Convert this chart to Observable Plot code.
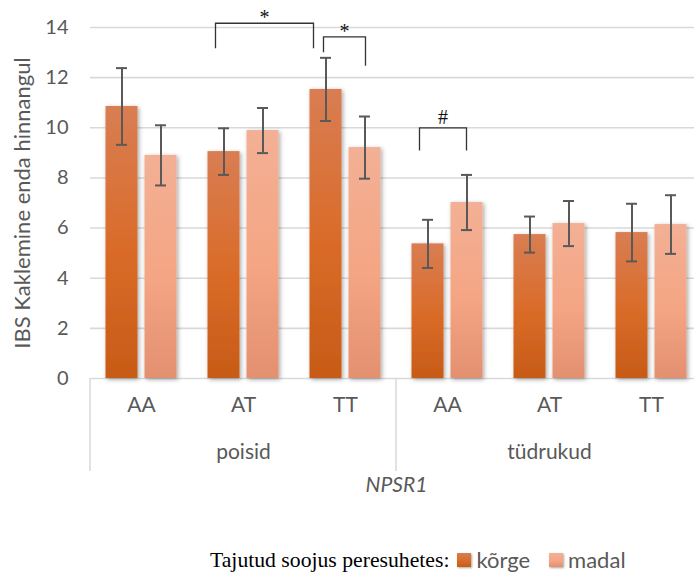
<!DOCTYPE html>
<html><head><meta charset="utf-8">
<script src="https://cdn.jsdelivr.net/npm/d3@7"></script>
<script src="https://cdn.jsdelivr.net/npm/@observablehq/plot@0.6"></script>
<style>
html,body{margin:0;padding:0;background:#fff;}
body{width:694px;height:575px;overflow:hidden;position:relative;font-family:Lato,sans-serif;}
#legend{position:absolute;left:210px;top:549px;height:22px;display:flex;align-items:center;white-space:nowrap;line-height:22px;}
#legend .title{font-family:"Liberation Serif",serif;font-size:21.7px;color:#000;margin-right:8px;}
#legend .sw{width:14px;height:14px;margin-right:5px;box-shadow:1px 1px 2px rgba(0,0,0,0.35);}
#legend .lab{font-family:Lato,sans-serif;font-size:22px;color:#595959;margin-right:19px;}
</style></head>
<body><div id="chart"></div><div id="legend"></div>
<script>
// ---- data ----
const sexes = ["poisid", "tüdrukud"];
const genotypes = ["AA", "AT", "TT"];
const seriesNames = ["kõrge", "madal"];
const korgeMean = [10.85, 9.05, 11.53, 5.37, 5.74, 5.82];
const korgeErr  = [1.53, 0.93, 1.26, 0.96, 0.72, 1.15];
const madalMean = [8.90, 9.89, 9.21, 7.02, 6.18, 6.14];
const madalErr  = [1.20, 0.90, 1.24, 1.10, 0.90, 1.17];
const yTicks = [0, 2, 4, 6, 8, 10, 12, 14];
const yTitle = "IBS Kaklemine enda hinnangul";
const geneTitle = "NPSR1";
const legendTitle = "Tajutud soojus peresuhetes:";
// significance brackets: group index + series at each end, levels in y units
const brackets = [
  {g1: 1, s1: "kõrge", g2: 2, s2: "kõrge", top: 14.15, end1: 13.15, end2: 13.15, label: "*"},
  {g1: 2, s1: "kõrge", g2: 2, s2: "madal", top: 13.61, end1: 12.99, end2: 12.45, label: "*"},
  {g1: 3, s1: "kõrge", g2: 3, s2: "madal", top: 9.98, end1: 9.07, end2: 9.07, label: "#"}
];

// ---- styles ----
const W = 694, H = 530;
const mL = 90, mR = -8, mT = 27, mB = H - 378;
const barW = 32, barOff = 19.5, capW = 11;
const bracketNudge = [[-8, -12], [-2, 1], [-8, 0]];
const labelDy = {"*": 1, "#": -4};
const txt = "#595959";
const FS = 20, FScat = 21, FStitle = 22;

const groupKeys = sexes.flatMap(s => genotypes.map(g => s + "|" + g));
const rows = groupKeys.flatMap((k, i) => [
  {key: k, series: "kõrge", mean: korgeMean[i], err: korgeErr[i]},
  {key: k, series: "madal", mean: madalMean[i], err: madalErr[i]}
]);
const rowsK = rows.filter(d => d.series === "kõrge");
const rowsM = rows.filter(d => d.series === "madal");
const bw = (W - mR - mL) / groupKeys.length;
const fillOf = {"kõrge": "url(#gradK)", "madal": "url(#gradM)"};
const offOf = {"kõrge": -barOff, "madal": barOff};

function barMarks(data, s) {
  const off = offOf[s];
  const iL = bw / 2 + off - barW / 2, iR = bw / 2 - off - barW / 2;
  const cI = bw / 2 - capW / 2;
  return [
    Plot.barY(data, {x: "key", y: "mean", fill: fillOf[s], insetLeft: iL, insetRight: iR}),
    Plot.ruleX(data, {x: "key", y1: d => d.mean - d.err, y2: d => d.mean + d.err, dx: off, stroke: "#595959", strokeWidth: 2}),
    Plot.tickY(data, {x: "key", y: d => d.mean + d.err, dx: off, insetLeft: cI, insetRight: cI, stroke: "#595959", strokeWidth: 2}),
    Plot.tickY(data, {x: "key", y: d => d.mean - d.err, dx: off, insetLeft: cI, insetRight: cI, stroke: "#595959", strokeWidth: 2})
  ];
}

function categoryFrame(index, scales) {
  const x = scales.x, y = scales.y;
  const b = x.bandwidth ? x.bandwidth() : bw;
  const g = d3.create("svg:g").attr("stroke", "#d9d9d9").attr("stroke-width", 1.5);
  const y0 = y(0);
  const xs = [x(groupKeys[0]), x(groupKeys[3]), x(groupKeys[5]) + b];
  xs.forEach(px => g.append("line").attr("x1", px).attr("x2", px).attr("y1", y0).attr("y2", y0 + 93));
  return g.node();
}

function bracketMarks(index, scales) {
  const x = scales.x, y = scales.y;
  const b = x.bandwidth ? x.bandwidth() : bw;
  const g = d3.create("svg:g");
  brackets.forEach((br, i) => {
    const xa = x(groupKeys[br.g1]) + b / 2 + offOf[br.s1] + bracketNudge[i][0];
    const xb = x(groupKeys[br.g2]) + b / 2 + offOf[br.s2] + bracketNudge[i][1];
    const yt = y(br.top);
    g.append("path")
      .attr("d", `M${xa},${y(br.end1)}V${yt}H${xb}V${y(br.end2)}`)
      .attr("fill", "none").attr("stroke", "#333").attr("stroke-width", 1.3);
    g.append("text").attr("x", (xa + xb) / 2).attr("y", yt + labelDy[br.label])
      .attr("text-anchor", "middle").attr("font-family", "Liberation Serif, serif")
      .attr("font-size", 20).attr("fill", "#111").text(br.label);
  });
  return g.node();
}

const chart = Plot.plot({
  width: W, height: H,
  marginLeft: mL, marginRight: mR, marginTop: mT, marginBottom: mB,
  style: {fontFamily: "Lato, sans-serif", fontSize: FS + "px", color: txt, background: "#fff", overflow: "visible"},
  x: {type: "band", domain: groupKeys, padding: 0, axis: null},
  y: {domain: [0, 14], axis: null},
  marks: [
    Plot.ruleY(yTicks, {stroke: "#d9d9d9", strokeWidth: 1.6}),
    Plot.axisY(yTicks, {tickSize: 0, tickPadding: 22, fontSize: FS, label: null, color: txt}),
    ...barMarks(rowsK, "kõrge"),
    ...barMarks(rowsM, "madal"),
    categoryFrame,
    Plot.text(groupKeys, {x: d => d, text: d => d.split("|")[1], frameAnchor: "bottom", dy: 33, fontSize: FScat, fill: txt}),
    Plot.text(sexes, {x: s => s + "|AT", text: d => d, frameAnchor: "bottom", dy: 80, fontSize: FScat, fill: txt}),
    Plot.text([geneTitle], {frameAnchor: "bottom", dy: 113, fontSize: FScat, fontStyle: "italic", fill: txt}),
    Plot.text([yTitle], {frameAnchor: "left", textAnchor: "middle", rotate: -90, dx: -68, fontSize: FStitle, fill: txt}),
    bracketMarks
  ]
});

// gradients + shadow
const svg = d3.select(chart);
const defs = svg.insert("defs", ":first-child");
function grad(id, stops) {
  const lg = defs.append("linearGradient").attr("id", id).attr("x1", 0).attr("y1", 0).attr("x2", 0).attr("y2", 1);
  stops.forEach(([o, c]) => lg.append("stop").attr("offset", o).attr("stop-color", c));
}
grad("gradK", [[0, "#d97d53"], [0.55, "#d96b27"], [1, "#c75b17"]]);
grad("gradM", [[0, "#f3b095"], [0.55, "#f4a583"], [1, "#e39070"]]);
const f = defs.append("filter").attr("id", "shadow").attr("x", "-20%").attr("y", "-10%").attr("width", "150%").attr("height", "130%");
f.append("feDropShadow").attr("dx", 1.5).attr("dy", 1.5).attr("stdDeviation", 2).attr("flood-color", "#000").attr("flood-opacity", 0.35);
svg.selectAll("rect").filter(function() { const fl = this.getAttribute("fill") || this.parentNode.getAttribute("fill") || ""; return fl.startsWith("url(#grad"); }).attr("filter", "url(#shadow)");

document.getElementById("chart").appendChild(chart);

// legend
const leg = d3.select("#legend");
leg.append("span").attr("class", "title").text(legendTitle);
const cssGrad = {"kõrge": "linear-gradient(#d97d53, #d96b27 55%, #c75b17)", "madal": "linear-gradient(#f3b095, #f4a583 55%, #e39070)"};
seriesNames.forEach(s => {
  leg.append("span").attr("class", "sw").style("background", cssGrad[s]);
  leg.append("span").attr("class", "lab").text(s);
});
</script></body></html>
